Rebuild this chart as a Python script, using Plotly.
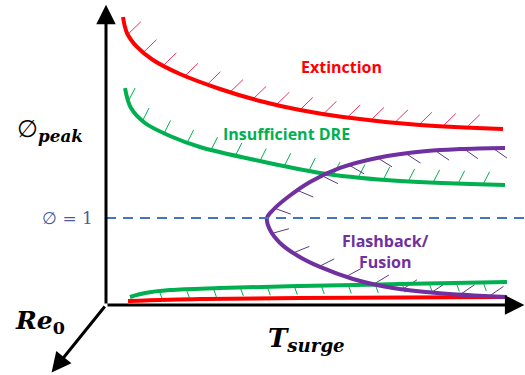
import numpy as np
import plotly.graph_objects as go

# ---- schematic data (T_surge, phi) ----
ext_T = [0.425, 0.525, 0.775, 1.175, 1.85, 2.85, 3.85, 4.85, 5.925, 7.85, 9.925]
ext_phi = [3.310, 3.126, 2.966, 2.816, 2.655, 2.483, 2.345, 2.241, 2.161, 2.069, 2.023]

dre_T = [0.475, 0.625, 0.975, 1.60, 2.35, 3.85, 5.525, 7.35, 9.975]
dre_phi = [2.494, 2.264, 2.092, 1.943, 1.816, 1.655, 1.506, 1.425, 1.379]

fb_T = [9.975, 8.85, 8.025, 6.775, 5.85, 5.10, 4.55, 4.175, 4.025, 4.10, 4.35, 4.80, 5.35, 6.175, 7.175, 8.275, 10.025]
fb_phi = [1.805, 1.793, 1.770, 1.690, 1.575, 1.414, 1.241, 1.092, 1.000, 0.862, 0.713, 0.563, 0.437, 0.299, 0.195, 0.138, 0.092]

dre_low_T = [0.60, 0.975, 1.60, 2.85, 4.85, 7.35, 10.025]
dre_low_phi = [0.092, 0.138, 0.172, 0.195, 0.218, 0.241, 0.264]

ext_low_T = [0.55, 2.35, 4.85, 10.025]
ext_low_phi = [0.046, 0.069, 0.080, 0.092]

phi_stoich = 1.0

# axis arrow end points (T, phi): phi axis, T_surge axis, Re0 axis
axis_ends = [(0.0, 3.45), (10.46, 0.0), (-1.36, -0.775)]

labels = {
    "ext": "Extinction",
    "dre": "Insufficient DRE",
    "fb": "Flashback/<br>Fusion",
}

RED = "#FF0000"
GREEN = "#00B050"
PURPLE = "#7030A0"
BLUE = "#4472C4"

W, H = 525, 375
XR = [-2.65, 10.475]
YR = [-0.805, 3.506]
SX = W / (XR[1] - XR[0])
SY = H / (YR[1] - YR[0])


def hatch(T, P, spacing, start, end, length, angle=None, blend=None):
    x = np.array(T) * SX
    y = np.array(P) * SY
    s = np.concatenate([[0], np.cumsum(np.hypot(np.diff(x), np.diff(y)))])
    ss = np.arange(start, s[-1] - end, spacing)
    xs = np.interp(ss, s, x)
    ys = np.interp(ss, s, y)
    eps = 3.0
    tx = np.interp(ss + eps, s, x) - np.interp(ss - eps, s, x)
    ty = np.interp(ss + eps, s, y) - np.interp(ss - eps, s, y)
    n = np.hypot(tx, ty)
    tx, ty = tx / n, ty / n
    if angle is not None:
        dx = np.full_like(xs, np.cos(np.radians(angle)))
        dy = np.full_like(xs, np.sin(np.radians(angle)))
    else:
        dx = -ty + blend
        dy = tx
        m = np.hypot(dx, dy)
        dx, dy = dx / m, dy / m
    hx, hy = [], []
    for i in range(len(xs)):
        hx += [xs[i] / SX, (xs[i] + length * dx[i]) / SX, None]
        hy += [ys[i] / SY, (ys[i] + length * dy[i]) / SY, None]
    return hx, hy


fig = go.Figure()

# hatches
for T, P, col, kw in [
    (ext_T, ext_phi, "#F0305A", dict(spacing=24, start=18, end=30, length=18, angle=44)),
    (dre_T, dre_phi, GREEN, dict(spacing=25, start=13, end=15, length=14, angle=63)),
    (dre_low_T, dre_low_phi, GREEN, dict(spacing=27, start=30, end=15, length=9, angle=-70)),
    (fb_T, fb_phi, "#5B3A80", dict(spacing=29, start=12, end=14, length=17, blend=1.4)),
]:
    hx, hy = hatch(T, P, **kw)
    fig.add_trace(go.Scatter(x=hx, y=hy, mode="lines", line=dict(color=col, width=1),
                             hoverinfo="skip", showlegend=False))

# main curves
for T, P, col in [
    (ext_low_T, ext_low_phi, RED),
    (dre_low_T, dre_low_phi, GREEN),
    (ext_T, ext_phi, RED),
    (dre_T, dre_phi, GREEN),
    (fb_T, fb_phi, PURPLE),
]:
    fig.add_trace(go.Scatter(x=T, y=P, mode="lines", line=dict(color=col, width=4, shape="spline", smoothing=1.0),
                             hoverinfo="skip", showlegend=False))

# phi = 1 line
fig.add_trace(go.Scatter(x=[0, XR[1]], y=[phi_stoich, phi_stoich], mode="lines",
                         line=dict(color=BLUE, width=2, dash="10px,7px"), hoverinfo="skip", showlegend=False))

ann = []
# axes arrows
for (ex, ey) in axis_ends:
    ann.append(dict(x=ex, y=ey, ax=0, ay=0, xref="x", yref="y", axref="x", ayref="y",
                    showarrow=True, arrowhead=2, arrowsize=1.3, arrowwidth=3, arrowcolor="black", text=""))

lab_font = "Open Sans"
texts = [
    dict(x=5.88, y=2.735, text="<b>" + labels["ext"] + "</b>", font=dict(color=RED, size=16, family=lab_font)),
    dict(x=4.50, y=1.965, text="<b>" + labels["dre"] + "</b>", font=dict(color=GREEN, size=16, family=lab_font)),
    dict(x=6.98, y=0.61, text="<b>" + labels["fb"] + "</b>", font=dict(color=PURPLE, size=16, family=lab_font)),
    dict(x=-0.27, y=phi_stoich, xanchor="right", text="∅ = 1",
         font=dict(color="#4A5AA0", size=17, family="DejaVu Serif")),
    dict(x=-1.4, y=2.01, text="∅<sub><b><i>peak</i></b></sub>",
         font=dict(color="black", size=24, family="DejaVu Serif")),
    dict(x=-1.65, y=-0.2, text="<b><i>Re</i><sub>0</sub></b>",
         font=dict(color="black", size=25, family="DejaVu Serif")),
    dict(x=5.0, y=-0.40, text="<b><i>T<sub>surge</sub></i></b>",
         font=dict(color="black", size=26, family="DejaVu Serif")),
]
for a in texts:
    a["showarrow"] = False
    a["xref"] = "x"
    a["yref"] = "y"
ann += texts

fig.update_layout(
    width=W, height=H, margin=dict(l=0, r=0, t=0, b=0),
    plot_bgcolor="white", paper_bgcolor="white",
    xaxis=dict(range=XR, visible=False, fixedrange=True),
    yaxis=dict(range=YR, visible=False, fixedrange=True),
    annotations=ann, showlegend=False,
)
fig.write_html("out.html")
